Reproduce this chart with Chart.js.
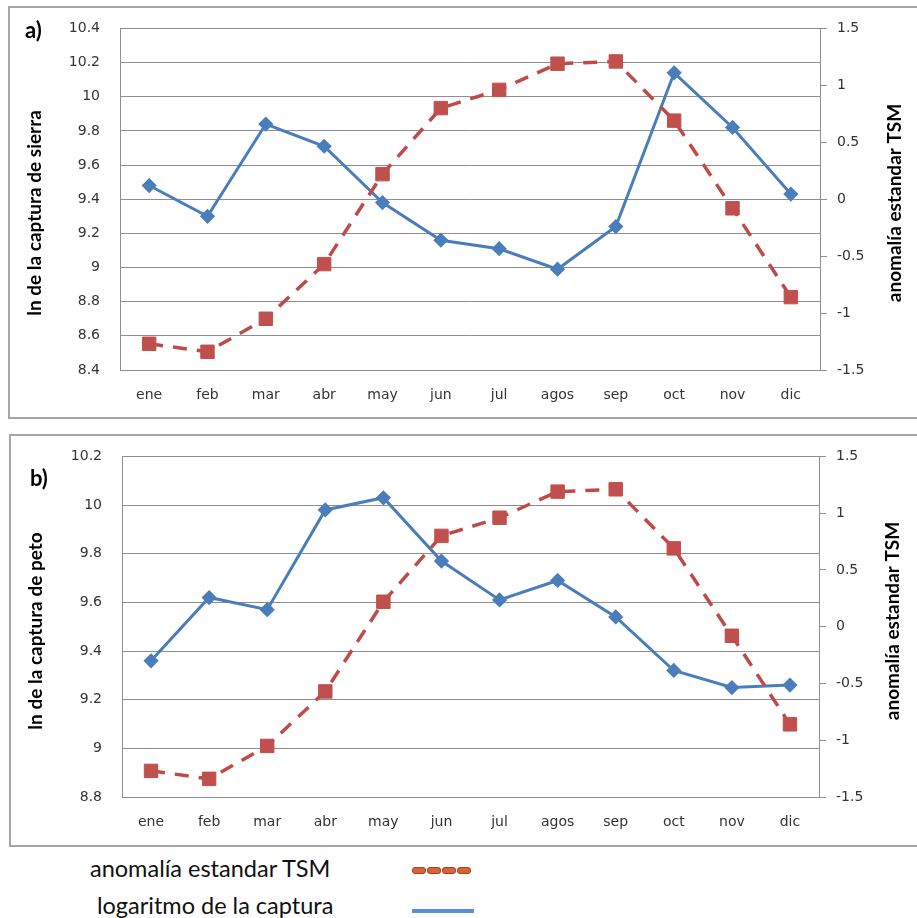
<!DOCTYPE html>
<html>
<head>
<meta charset="utf-8">
<script src="https://cdn.jsdelivr.net/npm/chart.js@4.4.0/dist/chart.umd.min.js"></script>
<style>
body { margin: 0; background: #fff; width: 917px; height: 918px; overflow: hidden; position: relative; font-family: Lato, sans-serif; }
.box { position: absolute; border: 2px solid #a6a6a6; width: 930px; height: 409px; }
#boxA { left: 8px; top: 6px; }
#boxB { left: 9px; top: 434px; }
.wrap { position: absolute; left: 0; width: 917px; height: 420px; }
#wrapA { top: 0; }
#wrapB { top: 428px; }
.tag { position: absolute; font: bold 22px Lato; color: #000; line-height: 24px; }
.legText { position: absolute; font: 23.5px Lato; color: #111; line-height: 28px; white-space: nowrap; }
.dash { position: absolute; top: 867px; width: 12px; height: 5px; border-radius: 3px; background: #d8642e; border: 1px solid #a8402a; }
#blueLine { position: absolute; left: 412px; top: 909px; width: 62px; height: 4px; background: #5b8fd6; }
</style>
</head>
<body>
<div class="box" id="boxA"></div>
<div class="box" id="boxB"></div>
<div class="wrap" id="wrapA"><canvas id="chartA" width="917" height="420"></canvas></div>
<div class="wrap" id="wrapB"><canvas id="chartB" width="917" height="420"></canvas></div>
<div class="tag" style="left:25px; top:18px;">a)</div>
<div class="tag" style="left:30px; top:466px;">b)</div>

<div class="legText" style="left:90px; top:854px;">anomalía estandar TSM</div>
<div class="legText" style="left:97px; top:891px;">logaritmo de la captura</div>
<div class="dash" style="left:412px;"></div>
<div class="dash" style="left:427px;"></div>
<div class="dash" style="left:442px;"></div>
<div class="dash" style="left:457px;"></div>
<div id="blueLine"></div>

<script>
const months = ['ene', 'feb', 'mar', 'abr', 'may', 'jun', 'jul', 'agos', 'sep', 'oct', 'nov', 'dic'];
const tsmAnomaly = [-1.27, -1.34, -1.05, -0.57, 0.22, 0.80, 0.96, 1.19, 1.21, 0.69, -0.08, -0.86];
const lnSierra = [9.48, 9.30, 9.84, 9.71, 9.38, 9.16, 9.11, 8.99, 9.24, 10.14, 9.82, 9.43];
const lnPeto = [9.36, 9.62, 9.57, 9.98, 10.03, 9.77, 9.61, 9.69, 9.54, 9.32, 9.25, 9.26];
const sierraTicks = [8.4, 8.6, 8.8, 9, 9.2, 9.4, 9.6, 9.8, 10, 10.2, 10.4];
const petoTicks = [8.8, 9, 9.2, 9.4, 9.6, 9.8, 10, 10.2];
const tsmTicks = [-1.5, -1, -0.5, 0, 0.5, 1, 1.5];

const gridColor = '#8e8e8e';
const tickFont = { family: 'DejaVu Sans', size: 14 };

// axis titles drawn by hand so the right one reads bottom to top like the original
const axisTitles = {
    id: 'axisTitles',
    afterDraw(chart, args, opts) {
        const ctx = chart.ctx;
        opts.items.forEach(t => {
            ctx.save();
            ctx.translate(t.x, t.y);
            ctx.rotate(-Math.PI / 2);
            ctx.font = 'bold 19px Lato';
            ctx.fillStyle = '#000';
            ctx.textAlign = 'center';
            ctx.textBaseline = 'middle';
            ctx.fillText(t.text, 0, 0);
            ctx.restore();
        });
    }
};

function makeChart(id, capture, leftTicks, leftTitle, area) {
    const ctx = document.getElementById(id).getContext('2d');
    return new Chart(ctx, {
        type: 'line',
        data: {
            labels: months,
            datasets: [{
                label: 'anomalía estandar TSM',
                data: tsmAnomaly,
                yAxisID: 'y1',
                borderColor: '#be4b48',
                borderWidth: 3.5,
                borderDash: [14, 10],
                tension: 0,
                pointStyle: 'rect',
                pointRadius: 9.5,
                pointBackgroundColor: '#c0504d',
                pointBorderColor: '#c0504d',
                pointBorderWidth: 1
            }, {
                label: 'logaritmo de la captura',
                data: capture,
                yAxisID: 'y',
                borderColor: '#4a7ebb',
                borderWidth: 3,
                tension: 0,
                pointStyle: 'rectRot',
                pointRadius: 5.5,
                pointBackgroundColor: '#4a7ebb',
                pointBorderColor: '#4a7ebb'
            }]
        },
        options: {
            responsive: false,
            animation: false,
            devicePixelRatio: 1,
            layout: { padding: { top: area.top, left: 0, right: 0, bottom: 0 } },
            plugins: {
                legend: { display: false },
                tooltip: { enabled: false },
                axisTitles: { items: [
                    { text: leftTitle, x: area.leftTitleX, y: area.leftTitleY },
                    { text: 'anomalía estandar TSM', x: area.rightTitleX, y: area.rightTitleY }
                ] }
            },
            scales: {
                x: {
                    offset: true,
                    grid: { display: false },
                    border: { display: true, color: gridColor },
                    ticks: { font: tickFont, color: '#333', padding: 9, maxRotation: 0 },
                    afterFit: s => { s.height = area.xHeight; }
                },
                y: {
                    position: 'left',
                    min: leftTicks[0],
                    max: leftTicks[leftTicks.length - 1],
                    afterBuildTicks: s => { s.ticks = leftTicks.map(v => ({ value: v })); },
                    grid: { color: gridColor, drawTicks: false },
                    border: { display: true, color: gridColor },
                    ticks: { font: tickFont, color: '#333', padding: 20, callback: v => String(v) },
                    afterFit: s => { s.width = area.left; }
                },
                y1: {
                    position: 'right',
                    min: -1.5,
                    max: 1.5,
                    afterBuildTicks: s => { s.ticks = tsmTicks.map(v => ({ value: v })); },
                    grid: { drawOnChartArea: false, drawTicks: true, tickLength: 7, color: gridColor },
                    border: { display: true, color: gridColor },
                    ticks: { font: tickFont, color: '#333', padding: 10, callback: v => String(v) },
                    afterFit: s => { s.width = 917 - area.right; }
                }
            }
        },
        plugins: [axisTitles]
    });
}

makeChart('chartA', lnSierra, sierraTicks, 'ln de la captura de sierra',
    { top: 27, left: 120, right: 820, xHeight: 50, leftTitleX: 35, leftTitleY: 213, rightTitleX: 895, rightTitleY: 203 });
makeChart('chartB', lnPeto, petoTicks, 'ln de la captura de peto',
    { top: 27, left: 122, right: 819, xHeight: 51, leftTitleX: 36, leftTitleY: 203, rightTitleX: 893, rightTitleY: 193 });
</script>
</body>
</html>
